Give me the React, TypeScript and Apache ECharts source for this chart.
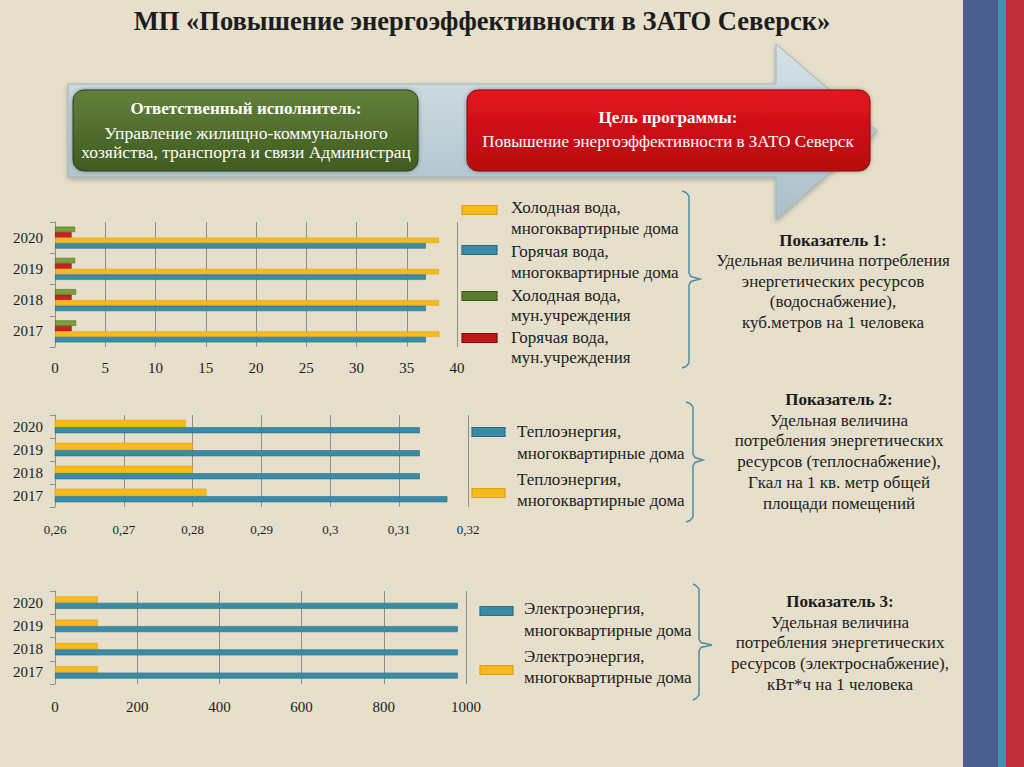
import React, { useEffect, useRef } from 'react';
import * as echarts from 'echarts';

// ---------- data ----------
const years = ['2017', '2018', '2019', '2020'];

// Показатель 1 (водоснабжение), куб.м на 1 человека
const waterColdFlats = [38.25, 38.2, 38.2, 38.2];
const waterHotFlats = [36.9, 36.9, 36.9, 36.9];
const waterHotMun = [1.65, 1.65, 1.65, 1.65];
const waterColdMun = [2.1, 2.1, 2.0, 2.0];
const waterTicks = ['0', '5', '10', '15', '20', '25', '30', '35', '40'];
const waterLegend = [
  ['Холодная вода,', 'многоквартирные дома'],
  ['Горячая вода,', 'многоквартирные дома'],
  ['Холодная вода,', 'мун.учреждения'],
  ['Горячая вода,', 'мун.учреждения'],
];

// Показатель 2 (теплоснабжение), Гкал на 1 кв. м
const heatTeal = [0.317, 0.313, 0.313, 0.313];
const heatYellow = [0.282, 0.28, 0.28, 0.279];
const heatTicks = ['0,26', '0,27', '0,28', '0,29', '0,3', '0,31', '0,32'];
const heatLegend = [
  ['Теплоэнергия,', 'многоквартирные дома'],
  ['Теплоэнергия,', 'многоквартирные дома'],
];

// Показатель 3 (электроснабжение), кВт*ч на 1 человека
const elecTeal = [980, 980, 980, 980];
const elecYellow = [104, 104, 104, 104];
const elecTicks = ['0', '200', '400', '600', '800', '1000'];
const elecLegend = [
  ['Электроэнергия,', 'многоквартирные дома'],
  ['Электроэнергия,', 'многоквартирные дома'],
];

const titleText = 'МП «Повышение энергоэффективности в ЗАТО Северск»';
const greenBoxLines = ['Ответственный исполнитель:', 'Управление жилищно-коммунального', 'хозяйства, транспорта и связи Администрац'];
const redBoxLines = ['Цель программы:', 'Повышение энергоэффективности в ЗАТО Северск'];
const block1 = ['Показатель 1:', 'Удельная величина потребления', 'энергетических ресурсов', '(водоснабжение),', 'куб.метров на 1 человека'];
const block2 = ['Показатель 2:', 'Удельная величина', 'потребления энергетических', 'ресурсов (теплоснабжение),', 'Гкал на 1 кв. метр общей', 'площади помещений'];
const block3 = ['Показатель 3:', 'Удельная величина', 'потребления энергетических', 'ресурсов (электроснабжение),', 'кВт*ч на 1 человека'];

// ---------- styles ----------
const BG = '#E6DFCB';
const YELLOW = '#F5BB1E';
const YELLOW_S = '#E39F10';
const TEAL = '#3A8BA5';
const TEAL_S = '#276F86';
const GREEN = '#78A13C';
const GREEN_S = '#4C6A22';
const RED = '#C8221C';
const RED_S = '#8C0F10';
const GRIDC = '#938E82';
const TXT = '#1c1c1c';
const FONT = '"Liberation Serif", "Times New Roman", serif';

const txt = (text: string, x: number, y: number, size: number, o: any = {}) => ({
  type: 'text',
  x,
  y,
  silent: true,
  z: 10,
  style: {
    text,
    fill: o.fill || TXT,
    font: `${o.bold ? 'bold ' : ''}${size}px ${FONT}`,
    textAlign: o.align || 'left',
    align: o.align || 'left',
    textVerticalAlign: 'middle',
    verticalAlign: 'middle',
  },
});

const swatch = (x: number, cy: number, w: number, fill: string, stroke: string) => ({
  type: 'rect',
  z: 10,
  shape: { x, y: cy - 4.5, width: w, height: 9 },
  style: { fill, stroke, lineWidth: 1.2 },
});

const brace = (xl: number, xm: number, xt: number, top: number, mid: number, bot: number) => ({
  type: 'polyline',
  z: 10,
  shape: {
    points: [
      [xl, top], [xm - 3, top + 1.5], [xm, top + 5],
      [xm, mid - 6], [xm + 2, mid - 2.5], [xt, mid], [xm + 2, mid + 2.5], [xm, mid + 6],
      [xm, bot - 5], [xm - 3, bot - 1.5], [xl, bot],
    ],
  },
  style: { stroke: '#4F8DA2', lineWidth: 1.5, fill: null },
});

const tickFmt = (ticks: string[]) => (v: number) => {
  const min = parseFloat(ticks[0].replace(',', '.'));
  const step = parseFloat(ticks[1].replace(',', '.')) - min;
  const i = Math.round((v - min) / step);
  return ticks[i] ?? '';
};
const num = (s: string) => parseFloat(s.replace(',', '.'));

const xAxisCfg = (gi: number, ticks: string[], fs: number, margin: number) => ({
  gridIndex: gi,
  type: 'value',
  min: num(ticks[0]),
  max: num(ticks[ticks.length - 1]),
  interval: +(num(ticks[1]) - num(ticks[0])).toFixed(6),
  axisLine: { show: false },
  axisTick: { show: false },
  splitLine: { show: true, lineStyle: { color: GRIDC, width: 1 } },
  axisLabel: { color: TXT, fontSize: fs, fontFamily: FONT, margin, formatter: tickFmt(ticks) },
});

const yAxisCfg = (gi: number) => ({
  gridIndex: gi,
  type: 'category',
  data: years,
  axisLine: { show: true, lineStyle: { color: GRIDC } },
  axisTick: { show: true, length: 5, lineStyle: { color: GRIDC } },
  axisLabel: { color: TXT, fontSize: 15, fontFamily: FONT, margin: 12 },
  splitLine: { show: false },
});

const bar = (name: string, gi: number, data: number[], w: number, fill: string, stroke: string) => ({
  type: 'bar',
  name,
  xAxisIndex: gi,
  yAxisIndex: gi,
  data,
  barWidth: w,
  barGap: '0%',
  itemStyle: { color: fill, borderColor: stroke, borderWidth: 0.6 },
});

export default function App() {
  const ref = useRef<HTMLDivElement>(null);

  useEffect(() => {
    document.body.style.margin = '0';
    const chart = echarts.init(ref.current!, null, { renderer: 'svg' });

    const graphic: any[] = [
      // right stripes
      { type: 'rect', shape: { x: 963, y: 0, width: 35, height: 767 }, style: { fill: '#4A5E8F' } },
      { type: 'rect', shape: { x: 998, y: 0, width: 8, height: 767 }, style: { fill: '#3A98AE' } },
      { type: 'rect', shape: { x: 1006, y: 0, width: 18, height: 767 }, style: { fill: '#C1303A' } },
      // title
      txt(titleText, 482, 21, 26.5, { bold: true, align: 'center' }),
      // arrow
      {
        type: 'polygon',
        shape: { points: [[68, 84], [776, 84], [776, 44], [877, 131], [776, 220], [776, 177], [68, 177]] },
        style: {
          fill: new echarts.graphic.LinearGradient(0, 0, 0, 1, [
            { offset: 0, color: '#D6E2E6' },
            { offset: 1, color: '#A9BECA' },
          ]),
          stroke: '#9DB2BE',
          lineWidth: 1,
          shadowBlur: 5,
          shadowOffsetY: 2,
          shadowColor: 'rgba(0,0,0,0.25)',
        },
      },
      // green box
      {
        type: 'rect',
        shape: { x: 73, y: 90, width: 345, height: 81, r: 11 },
        style: {
          fill: new echarts.graphic.LinearGradient(0, 0, 0, 1, [
            { offset: 0, color: '#62803A' },
            { offset: 1, color: '#405B20' },
          ]),
          stroke: '#2E4316',
          lineWidth: 1,
          shadowBlur: 4,
          shadowColor: 'rgba(0,0,0,0.35)',
        },
      },
      txt(greenBoxLines[0], 246, 108, 17, { bold: true, align: 'center', fill: '#ffffff' }),
      txt(greenBoxLines[1], 246, 133, 17.5, { align: 'center', fill: '#ffffff' }),
      txt(greenBoxLines[2], 246, 152, 17.5, { align: 'center', fill: '#ffffff' }),
      // red box
      {
        type: 'rect',
        shape: { x: 467, y: 90, width: 403, height: 81, r: 11 },
        style: {
          fill: new echarts.graphic.LinearGradient(0, 0, 0, 1, [
            { offset: 0, color: '#E3161E' },
            { offset: 1, color: '#B5070E' },
          ]),
          stroke: '#86090D',
          lineWidth: 1,
          shadowBlur: 4,
          shadowColor: 'rgba(0,0,0,0.35)',
        },
      },
      txt(redBoxLines[0], 668, 117, 17, { bold: true, align: 'center', fill: '#ffffff' }),
      txt(redBoxLines[1], 668, 141, 17, { align: 'center', fill: '#ffffff' }),

      // legend 1
      swatch(462, 210, 35, YELLOW, YELLOW_S),
      swatch(462, 250, 35, TEAL, TEAL_S),
      swatch(462, 296, 35, '#5C7B2E', '#3F5A1C'),
      swatch(462, 338, 35, '#C0151A', '#7E0A0C'),
      txt(waterLegend[0][0], 511, 207, 17), txt(waterLegend[0][1], 511, 228, 17),
      txt(waterLegend[1][0], 511, 251, 17), txt(waterLegend[1][1], 511, 272, 17),
      txt(waterLegend[2][0], 511, 295, 17), txt(waterLegend[2][1], 511, 315, 17),
      txt(waterLegend[3][0], 511, 337, 17), txt(waterLegend[3][1], 511, 357, 17),

      // legend 2
      swatch(472, 432, 33, TEAL, TEAL_S),
      swatch(472, 493, 33, YELLOW, YELLOW_S),
      txt(heatLegend[0][0], 517, 431, 17), txt(heatLegend[0][1], 517, 453, 17),
      txt(heatLegend[1][0], 517, 479, 17), txt(heatLegend[1][1], 517, 500, 17),

      // legend 3
      swatch(480, 611, 33, TEAL, TEAL_S),
      swatch(480, 670, 33, YELLOW, YELLOW_S),
      txt(elecLegend[0][0], 524, 608, 17), txt(elecLegend[0][1], 524, 630, 17),
      txt(elecLegend[1][0], 524, 656, 17), txt(elecLegend[1][1], 524, 677, 17),

      // braces
      brace(682, 689, 700, 191, 279, 368),
      brace(686, 693, 703, 402, 460, 522),
      brace(693, 699, 712, 584, 645, 700),
    ];

    // right text blocks
    const b1y = [240, 260, 281, 301, 322];
    block1.forEach((t, i) => graphic.push(txt(t, 833, b1y[i], 17, { bold: i === 0, align: 'center' })));
    const b2y = [399, 420, 440, 461, 482, 503];
    block2.forEach((t, i) => graphic.push(txt(t, 839, b2y[i], 17, { bold: i === 0, align: 'center' })));
    const b3y = [601, 622, 642, 663, 684];
    block3.forEach((t, i) => graphic.push(txt(t, 840, b3y[i], 17, { bold: i === 0, align: 'center' })));

    const option: any = {
      animation: false,
      backgroundColor: BG,
      textStyle: { fontFamily: FONT },
      grid: [
        { left: 55, top: 222, width: 402, height: 125 },
        { left: 55, top: 415, width: 413, height: 92 },
        { left: 55, top: 591, width: 411, height: 93 },
      ],
      xAxis: [
        xAxisCfg(0, waterTicks, 15, 13),
        xAxisCfg(1, heatTicks, 13, 16),
        xAxisCfg(2, elecTicks, 15, 15),
      ],
      yAxis: [yAxisCfg(0), yAxisCfg(1), yAxisCfg(2)],
      // in each year group the first series is drawn at the top
      series: [
        bar('Холодная вода, мун.учреждения', 0, waterColdMun, 5.5, GREEN, GREEN_S),
        bar('Горячая вода, мун.учреждения', 0, waterHotMun, 5.5, RED, RED_S),
        bar('Холодная вода, многоквартирные дома', 0, waterColdFlats, 5.5, YELLOW, YELLOW_S),
        bar('Горячая вода, многоквартирные дома', 0, waterHotFlats, 5.5, TEAL, TEAL_S),
        bar('Теплоэнергия (2)', 1, heatYellow, 7.5, YELLOW, YELLOW_S),
        bar('Теплоэнергия (1)', 1, heatTeal, 6, TEAL, TEAL_S),
        bar('Электроэнергия (2)', 2, elecYellow, 6.5, YELLOW, YELLOW_S),
        bar('Электроэнергия (1)', 2, elecTeal, 6, TEAL, TEAL_S),
      ],
      graphic,
    };
    chart.setOption(option);
    return () => chart.dispose();
  }, []);

  return (
    <div
      ref={ref}
      style={{ position: 'absolute', left: 0, top: 0, width: 1024, height: 767 }}
    />
  );
}
